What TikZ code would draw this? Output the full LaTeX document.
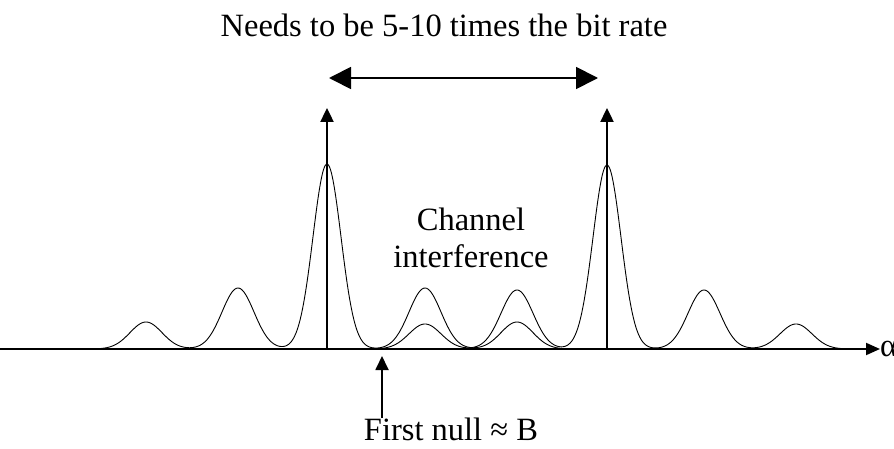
\documentclass[tikz,border=0pt]{standalone}
\usepackage{fontspec}
\setmainfont{Liberation Serif}
\usetikzlibrary{arrows.meta}
\definecolor{ink}{HTML}{000000}
\tikzset{
  % ---- axis and impulses -----------------------------------------
  axis/.style     = {draw=ink, line width=2pt,
                     -{Triangle[length=14pt, width=12pt]}},
  impulse/.style  = {draw=ink, line width=2.4pt,
                     -{Triangle[length=14pt, width=13pt]}},
  span/.style     = {draw=ink, line width=1.8pt,
                     {Triangle[length=22pt, width=22pt]}-{Triangle[length=22pt, width=22pt]}},
  pointer/.style  = {draw=ink, line width=1.8pt,
                     -{Triangle[length=14pt, width=13pt]}},
  % ---- spectra ----------------------------------------------------
  spec/.style     = {draw=ink, line width=0.9pt},
  % ---- labels -----------------------------------------------------
  lbl/.style      = {font=\fontsize{32.5}{37}\selectfont, text=ink,
                     inner sep=0pt, align=center},
}
\begin{document}
\begin{tikzpicture}[x=1pt, y=1pt]
\useasboundingbox (0,0) rectangle (894,448);
% labels
\node[lbl, anchor=base] (rate) at (444, 411) {Needs to be 5-10 times the bit rate};
\node[lbl, anchor=north] (chan) at (471, 240) {Channel\\interference};
\node[lbl, anchor=base] (null) at (451, 8) {First null ≈ B};
\node[lbl, anchor=west] (alpha) at (880, 99) {α};
% coordinates
\coordinate (ax0) at (0, 99);
\coordinate (imp1b) at (327, 99);
\coordinate (imp1t) at (327, 340);
\coordinate (imp2b) at (607, 99);
\coordinate (imp2t) at (607, 340);
\coordinate (spanL) at (329, 370);
\coordinate (spanR) at (598, 370);
\coordinate (nullfoot) at (382, 30);
\coordinate (nullpt) at (382, 92);
% left spectrum
\draw[spec] plot[domain=98:562, samples=320, smooth] (\x, {99
  + 27*exp(-0.5*((\x-146)/16)^2) + 61*exp(-0.5*((\x-238)/16)^2)
  + 185*exp(-0.5*((\x-327)/14)^2)
  + 61*exp(-0.5*((\x-425)/16)^2) + 27*exp(-0.5*((\x-517)/16)^2)});
% right spectrum
\draw[spec] plot[domain=378:842, samples=320, smooth] (\x, {99
  + 25*exp(-0.5*((\x-425)/16)^2) + 59*exp(-0.5*((\x-517)/16)^2)
  + 184*exp(-0.5*((\x-607)/14)^2)
  + 59*exp(-0.5*((\x-704)/16)^2) + 25*exp(-0.5*((\x-796)/16)^2)});
% axis, impulses, arrows
\draw[axis] (ax0) -- (alpha.west);
\draw[impulse] (imp1b) -- (imp1t);
\draw[impulse] (imp2b) -- (imp2t);
\draw[span] (spanL) -- (spanR);
\draw[pointer] (nullfoot) -- (nullpt);
\end{tikzpicture}
\end{document}
